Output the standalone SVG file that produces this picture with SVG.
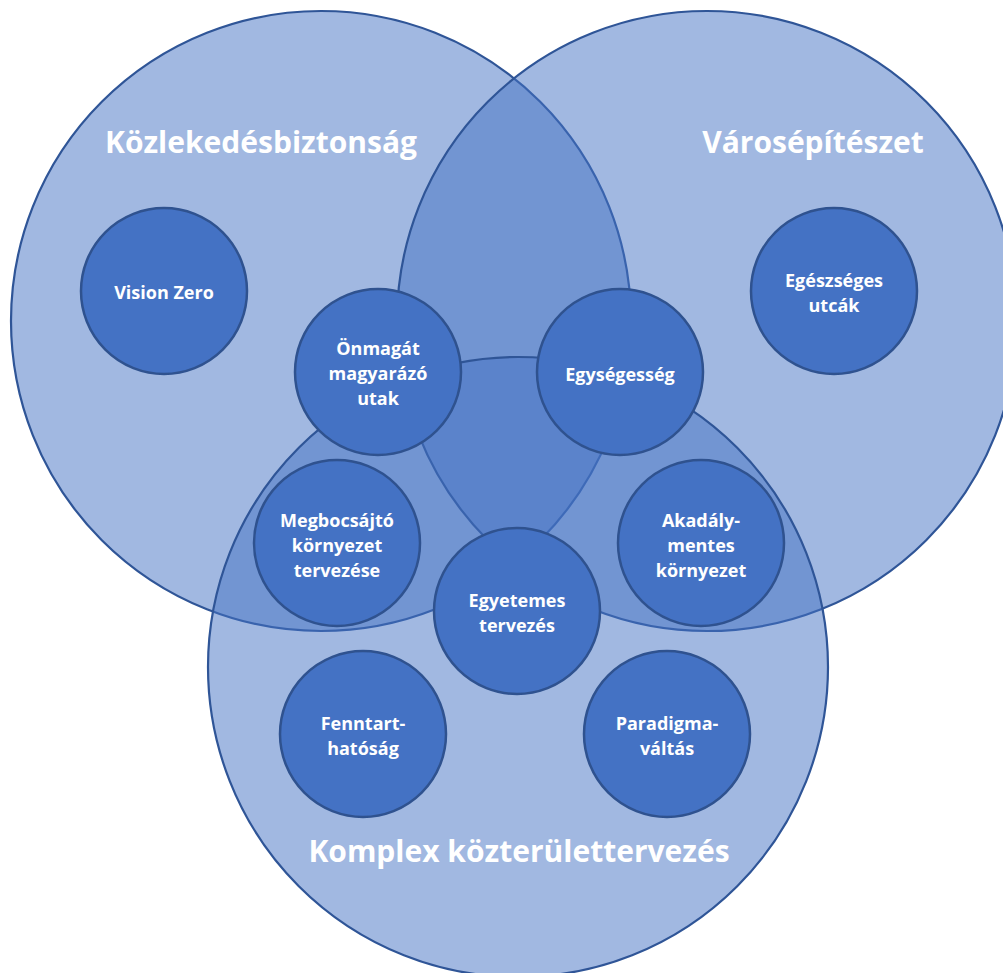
<svg xmlns="http://www.w3.org/2000/svg" width="1003" height="973" viewBox="0 0 1003 973">
<style>
.big{fill:#4472C4;fill-opacity:0.5;stroke:#2F5597;stroke-width:2.2}
.node{fill:#4472C4;stroke:#2F528F;stroke-width:2.5}
.title{font-family:"Open Sans","Liberation Sans",sans-serif;font-weight:700;font-size:30px;fill:#FFFFFF;text-anchor:middle}
.lbl{font-family:"Open Sans","Liberation Sans",sans-serif;font-weight:700;font-size:18px;fill:#FFFFFF;text-anchor:middle}
</style>
<rect width="1003" height="973" fill="#FFFFFF"/>
<g id="sets">
<g id="set-kozlekedesbiztonsag"><circle class="big" cx="321" cy="321" r="310"/></g>
<g id="set-varosepiteszet"><circle class="big" cx="707" cy="321" r="310"/></g>
<g id="set-komplex"><circle class="big" cx="518" cy="667" r="310"/></g>
</g>
<g id="titles">
<text class="title" x="261" y="153">Közlekedésbiztonság</text>
<text class="title" x="813" y="153">Városépítészet</text>
<text class="title" x="519" y="862">Komplex közterülettervezés</text>
</g>
<g id="connectors"></g>
<g id="n-vision-zero"><circle class="node" cx="164" cy="291" r="83"/><text class="lbl" x="164" y="299">Vision Zero</text></g>
<g id="n-egeszseges-utcak"><circle class="node" cx="834" cy="291" r="83"/><text class="lbl" x="834" y="287">Egészséges</text><text class="lbl" x="834" y="312">utcák</text></g>
<g id="n-onmagat"><circle class="node" cx="378" cy="372" r="83"/><text class="lbl" x="378" y="355">Önmagát</text><text class="lbl" x="378" y="380">magyarázó</text><text class="lbl" x="378" y="405">utak</text></g>
<g id="n-egysegesseg"><circle class="node" cx="620" cy="372" r="83"/><text class="lbl" x="620" y="381">Egységesség</text></g>
<g id="n-megbocsajto"><circle class="node" cx="337" cy="543" r="83"/><text class="lbl" x="337" y="527">Megbocsájtó</text><text class="lbl" x="337" y="552">környezet</text><text class="lbl" x="337" y="577">tervezése</text></g>
<g id="n-akadalymentes"><circle class="node" cx="701" cy="543" r="83"/><text class="lbl" x="701" y="527">Akadály-</text><text class="lbl" x="701" y="552">mentes</text><text class="lbl" x="701" y="577">környezet</text></g>
<g id="n-egyetemes"><circle class="node" cx="517" cy="611" r="83"/><text class="lbl" x="517" y="607">Egyetemes</text><text class="lbl" x="517" y="632">tervezés</text></g>
<g id="n-fenntarthatosag"><circle class="node" cx="363" cy="734" r="83"/><text class="lbl" x="363" y="730">Fenntart-</text><text class="lbl" x="363" y="755">hatóság</text></g>
<g id="n-paradigmavaltas"><circle class="node" cx="667" cy="734" r="83"/><text class="lbl" x="667" y="730">Paradigma-</text><text class="lbl" x="667" y="755">váltás</text></g>
</svg>
